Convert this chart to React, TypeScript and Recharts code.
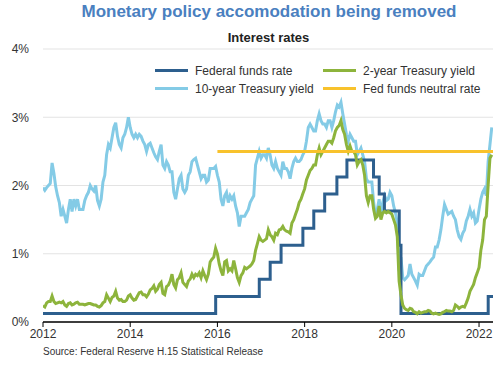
import React from "react";
import { LineChart, Line, XAxis, YAxis, CartesianGrid } from "recharts";

const yearTicks = [2012, 2014, 2016, 2018, 2020, 2022];
const pctTicks = [0, 1, 2, 3, 4];

// 10-year Treasury yield, two readings per month, 2012..2022
const tenYear2012 = [1.97, 1.93, 1.97, 2.0, 2.03, 2.33, 2.18, 1.98, 1.85, 1.75, 1.55, 1.65, 1.55, 1.45, 1.65, 1.8, 1.62, 1.8, 1.7, 1.8, 1.65, 1.65, 1.65, 1.78];
const tenYear2013 = [1.85, 1.9, 2.0, 1.95, 1.92, 2.0, 1.78, 1.7, 1.8, 2.05, 2.15, 2.45, 2.6, 2.55, 2.7, 2.85, 2.92, 2.72, 2.6, 2.55, 2.7, 2.75, 2.85, 3.0];
const tenYear2014 = [2.85, 2.75, 2.7, 2.75, 2.7, 2.75, 2.72, 2.65, 2.6, 2.5, 2.6, 2.62, 2.55, 2.48, 2.42, 2.38, 2.5, 2.6, 2.3, 2.25, 2.35, 2.3, 2.2, 2.2];
const tenYear2015 = [1.9, 1.8, 1.95, 2.1, 2.15, 1.95, 1.9, 1.95, 2.15, 2.2, 2.35, 2.38, 2.4, 2.3, 2.2, 2.1, 2.15, 2.15, 2.05, 2.08, 2.25, 2.25, 2.25, 2.28];
const tenYear2016 = [2.15, 2.05, 1.8, 1.7, 1.85, 1.9, 1.75, 1.85, 1.8, 1.85, 1.7, 1.6, 1.4, 1.55, 1.55, 1.55, 1.6, 1.65, 1.75, 1.8, 1.85, 2.3, 2.4, 2.5];
const tenYear2017 = [2.4, 2.45, 2.45, 2.4, 2.55, 2.45, 2.3, 2.25, 2.35, 2.25, 2.2, 2.15, 2.35, 2.25, 2.25, 2.2, 2.1, 2.25, 2.35, 2.4, 2.35, 2.35, 2.38, 2.45];
const tenYear2018 = [2.5, 2.65, 2.85, 2.9, 2.85, 2.8, 2.8, 2.95, 3.05, 2.95, 2.9, 2.9, 2.85, 2.95, 2.95, 2.85, 2.95, 3.08, 3.18, 3.15, 3.22, 3.05, 2.9, 2.75];
const tenYear2019 = [2.65, 2.75, 2.7, 2.65, 2.65, 2.45, 2.5, 2.55, 2.45, 2.35, 2.1, 2.05, 2.05, 2.05, 1.75, 1.55, 1.65, 1.8, 1.55, 1.75, 1.85, 1.78, 1.8, 1.9];
const tenYear2020 = [1.85, 1.7, 1.6, 1.45, 0.75, 0.95, 0.65, 0.62, 0.65, 0.68, 0.85, 0.7, 0.65, 0.6, 0.54, 0.7, 0.68, 0.68, 0.75, 0.82, 0.85, 0.88, 0.92, 0.95];
const tenYear2021 = [1.1, 1.1, 1.2, 1.35, 1.55, 1.72, 1.65, 1.58, 1.6, 1.62, 1.55, 1.5, 1.35, 1.25, 1.21, 1.3, 1.35, 1.48, 1.55, 1.65, 1.55, 1.6, 1.45, 1.48];
const tenYear2022 = [1.65, 1.8, 1.9, 1.95, 1.85, 2.35, 2.6, 2.85];

// 2-year Treasury yield, two readings per month
const twoYear2012 = [0.24, 0.22, 0.28, 0.3, 0.3, 0.38, 0.3, 0.27, 0.28, 0.29, 0.28, 0.3, 0.25, 0.23, 0.27, 0.28, 0.25, 0.26, 0.28, 0.29, 0.26, 0.26, 0.26, 0.25];
const twoYear2013 = [0.26, 0.27, 0.27, 0.26, 0.25, 0.25, 0.23, 0.22, 0.24, 0.28, 0.3, 0.4, 0.35, 0.3, 0.36, 0.38, 0.45, 0.35, 0.32, 0.33, 0.3, 0.3, 0.32, 0.38];
const twoYear2014 = [0.4, 0.35, 0.32, 0.33, 0.38, 0.43, 0.44, 0.4, 0.4, 0.37, 0.41, 0.47, 0.49, 0.53, 0.45, 0.48, 0.55, 0.58, 0.42, 0.4, 0.52, 0.54, 0.6, 0.7];
const twoYear2015 = [0.55, 0.5, 0.62, 0.65, 0.72, 0.58, 0.55, 0.52, 0.6, 0.63, 0.7, 0.65, 0.7, 0.68, 0.72, 0.65, 0.75, 0.68, 0.62, 0.7, 0.88, 0.92, 0.95, 1.08];
const twoYear2016 = [1.0, 0.85, 0.75, 0.68, 0.88, 0.9, 0.75, 0.78, 0.75, 0.9, 0.78, 0.65, 0.58, 0.68, 0.72, 0.8, 0.78, 0.8, 0.82, 0.85, 0.9, 1.05, 1.15, 1.25];
const twoYear2017 = [1.2, 1.18, 1.2, 1.22, 1.35, 1.28, 1.25, 1.2, 1.3, 1.28, 1.35, 1.36, 1.4, 1.35, 1.33, 1.32, 1.3, 1.45, 1.5, 1.58, 1.65, 1.75, 1.8, 1.88];
const twoYear2018 = [1.95, 2.08, 2.15, 2.22, 2.25, 2.3, 2.3, 2.45, 2.55, 2.45, 2.5, 2.55, 2.6, 2.65, 2.65, 2.62, 2.7, 2.8, 2.85, 2.88, 2.95, 2.82, 2.75, 2.6];
const twoYear2019 = [2.5, 2.58, 2.5, 2.5, 2.45, 2.3, 2.35, 2.38, 2.3, 2.15, 1.85, 1.75, 1.85, 1.85, 1.65, 1.52, 1.55, 1.7, 1.5, 1.6, 1.62, 1.6, 1.62, 1.6];
const twoYear2020 = [1.58, 1.5, 1.42, 1.25, 0.6, 0.4, 0.25, 0.2, 0.18, 0.17, 0.2, 0.19, 0.15, 0.14, 0.12, 0.15, 0.13, 0.14, 0.15, 0.15, 0.17, 0.16, 0.13, 0.12];
const twoYear2021 = [0.13, 0.12, 0.11, 0.12, 0.14, 0.15, 0.17, 0.16, 0.16, 0.15, 0.17, 0.25, 0.23, 0.2, 0.22, 0.23, 0.22, 0.28, 0.35, 0.45, 0.5, 0.55, 0.65, 0.72];
const twoYear2022 = [0.8, 1.05, 1.2, 1.5, 1.55, 2.0, 2.4, 2.45];

// Federal funds rate (target range midpoint): change dates and levels
const fedFundsDates = [2012.0, 2015.96, 2016.96, 2017.21, 2017.46, 2017.96, 2018.21, 2018.46, 2018.74, 2018.97, 2019.58, 2019.71, 2019.83, 2020.17, 2020.21, 2022.21, 2022.32];
const fedFundsLevels = [0.125, 0.375, 0.625, 0.875, 1.125, 1.375, 1.625, 1.875, 2.125, 2.375, 2.125, 1.875, 1.625, 1.125, 0.125, 0.375, 0.375];

// Fed funds neutral rate
const neutralDates = [2016.0, 2022.32];
const neutralLevels = [2.5, 2.5];

const buildSemiMonthly = (startYear: number, years: number[][]) => {
  const out: { x: number; y: number }[] = [];
  years.forEach((vals, yi) => {
    vals.forEach((v, i) => out.push({ x: startYear + yi + i / 24, y: v }));
  });
  return out;
};

const tenYearData = buildSemiMonthly(2012, [tenYear2012, tenYear2013, tenYear2014, tenYear2015, tenYear2016, tenYear2017, tenYear2018, tenYear2019, tenYear2020, tenYear2021, tenYear2022]);
const twoYearData = buildSemiMonthly(2012, [twoYear2012, twoYear2013, twoYear2014, twoYear2015, twoYear2016, twoYear2017, twoYear2018, twoYear2019, twoYear2020, twoYear2021, twoYear2022]);
const fedFundsData = fedFundsDates.map((x, i) => ({ x, y: fedFundsLevels[i] }));
const neutralData = neutralDates.map((x, i) => ({ x, y: neutralLevels[i] }));

const C_FED = "#2d5f8e";
const C_TWO = "#8db43c";
const C_TEN = "#84cbe6";
const C_NEU = "#f8c22c";
const FONT = "'Liberation Sans', Arial, sans-serif";

const legendItems = [
  { label: "Federal funds rate", color: C_FED },
  { label: "2-year Treasury yield", color: C_TWO },
  { label: "10-year Treasury yield", color: C_TEN },
  { label: "Fed funds neutral rate", color: C_NEU },
];

export default function App() {
  return (
    <div style={{ position: "absolute", left: 0, top: 0, width: 500, height: 365, background: "#fff", fontFamily: FONT }}>
      <div style={{ position: "absolute", left: 0, top: 2, width: 538, textAlign: "center", fontSize: 17, fontWeight: "bold", color: "#4a80c0" }}>
        Monetary policy accomodation being removed
      </div>
      <div style={{ position: "absolute", left: 0, top: 30, width: 537, textAlign: "center", fontSize: 13, fontWeight: "bold", color: "#222" }}>
        Interest rates
      </div>
      <LineChart width={500} height={365} margin={{ top: 49, right: 7, bottom: 13, left: 0 }}>
        <CartesianGrid horizontal vertical={false} stroke="#e3e3e3" />
        <XAxis
          type="number"
          dataKey="x"
          domain={[2012, 2022.32]}
          ticks={yearTicks}
          allowDataOverflow
          height={30}
          stroke="#000"
          axisLine={{ stroke: "#000", strokeWidth: 1.5 }}
          tickLine={{ stroke: "#000" }}
          tickSize={5}
          tick={{ fill: "#333", fontSize: 12, fontFamily: FONT }}
        />
        <YAxis
          type="number"
          domain={[0, 4]}
          ticks={pctTicks}
          width={43}
          axisLine={false}
          tickLine={false}
          tickMargin={8}
          tickFormatter={(v: number) => `${v}%`}
          tick={{ fill: "#333", fontSize: 12, fontFamily: FONT }}
        />
        <Line data={tenYearData} dataKey="y" type="linear" stroke={C_TEN} strokeWidth={3} dot={false} isAnimationActive={false} />
        <Line data={fedFundsData} dataKey="y" type="stepAfter" stroke={C_FED} strokeWidth={3} dot={false} isAnimationActive={false} />
        <Line data={twoYearData} dataKey="y" type="linear" stroke={C_TWO} strokeWidth={3} dot={false} isAnimationActive={false} />
        <Line data={neutralData} dataKey="y" type="linear" stroke={C_NEU} strokeWidth={3} dot={false} isAnimationActive={false} />
      </LineChart>
      <div style={{ position: "absolute", left: 155, top: 63, display: "grid", gridTemplateColumns: "168px 160px", rowGap: 3, fontSize: 12, color: "#333" }}>
        {legendItems.map((it) => (
          <div key={it.label} style={{ display: "flex", alignItems: "center", height: 15 }}>
            <span style={{ display: "inline-block", width: 33, height: 3, background: it.color, marginRight: 7 }} />
            <span>{it.label}</span>
          </div>
        ))}
      </div>
      <div style={{ position: "absolute", left: 43, top: 346, fontSize: 10, color: "#333" }}>
        Source: Federal Reserve H.15 Statistical Release
      </div>
    </div>
  );
}
